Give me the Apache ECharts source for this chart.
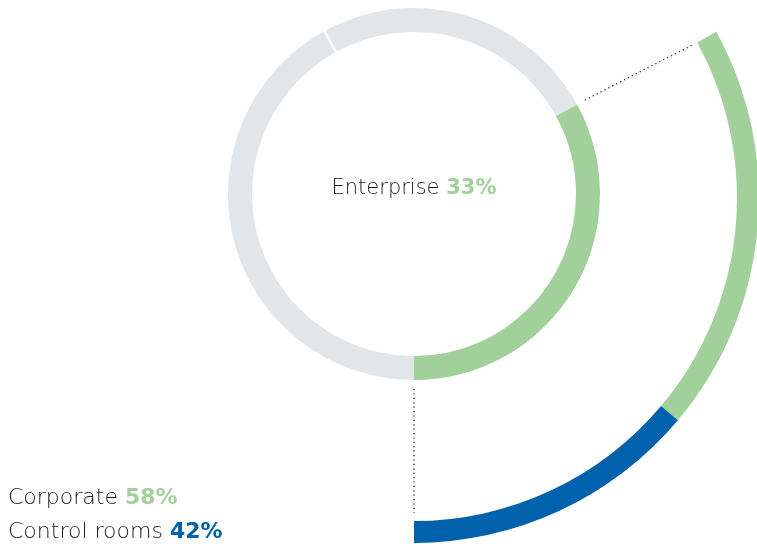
<!DOCTYPE html>
<html>
<head>
<meta charset="utf-8">
<style>
  html, body { margin: 0; padding: 0; background: #fff; }
  #chart { width: 757px; height: 544px; }
</style>
<script src="https://cdn.jsdelivr.net/npm/echarts@6/dist/echarts.min.js"></script>
</head>
<body>
<div id="chart"></div>
<script>
// Inner ring: share of the whole (Enterprise highlighted, the rest in grey)
const innerNames = ['Enterprise', 'Other A', 'Other B'];
const innerValues = [33, 42, 25];
// Outer arc: breakdown of the Enterprise share
const outerNames = ['Corporate', 'Control rooms'];
const outerShares = [58, 42];

const GREEN = '#a1d09b';
const BLUE = '#0061ad';
const GREY = '#e3e6e9';
const TEXT = '#1a1a1a';
const FONT = '"DejaVu Sans", "Open Sans", sans-serif';

const chart = echarts.init(document.getElementById('chart'), null, { renderer: 'canvas' });

const innerC = [414, 194];
const outerC = [414, 198];
const innerR = [162, 186];
const outerR = [323, 345];

const total = innerValues.reduce((a, b) => a + b, 0);
// Enterprise ends at the bottom of the ring; work back to its start angle
const startClock = 180 - 360 * innerValues[0] / total;   // degrees clockwise from 12 o'clock
const echartsStart = 90 - startClock;                      // ECharts: counter-clockwise from 3 o'clock

const outerValues = outerShares.map(s => innerValues[0] * s / 100);

function pt(c, clockDeg, r) {
  const a = clockDeg * Math.PI / 180;
  return [c[0] + r * Math.sin(a), c[1] - r * Math.cos(a)];
}

const baseSeries = {
  type: 'pie',
  startAngle: echartsStart,
  clockwise: true,
  silent: true,
  avoidLabelOverlap: false,
  label: { show: false },
  labelLine: { show: false },
  emphasis: { disabled: true },
  itemStyle: { borderWidth: 0 },
  animation: false
};

// separator between the two grey parts of the inner ring
const sepClock = startClock + 360 * (innerValues[0] + innerValues[1]) / total;
const sepA = pt(innerC, sepClock, innerR[0] - 2), sepB = pt(innerC, sepClock, innerR[1] + 2);

// dotted connectors from the inner Enterprise edges to the outer arc
const c1a = pt(innerC, startClock, innerR[1] + 9), c1b = pt(outerC, startClock, outerR[0] - 6);
const c2a = pt(innerC, 180, innerR[1] + 9), c2b = pt(outerC, 180, outerR[0] - 8);

const dotted = { stroke: '#333', lineWidth: 1.4, lineDash: [1.2, 3.2], fill: null };

function label(x, y, align, name, pct, color, size) {
  return {
    type: 'text', silent: true, z: 100,
    style: {
      x: x, y: y, align: align, verticalAlign: 'middle',
      text: '{n|' + name + ' }{p|' + pct + '%}',
      rich: {
        n: { fontFamily: FONT, fontSize: size, fontWeight: 200, fill: TEXT },
        p: { fontFamily: FONT, fontSize: size, fontWeight: 'bold', fill: color }
      }
    }
  };
}

chart.setOption({
  animation: false,
  series: [
    Object.assign({}, baseSeries, {
      name: 'inner',
      center: innerC,
      radius: innerR,
      data: innerValues.map((v, i) => ({
        name: innerNames[i], value: v,
        itemStyle: { color: i === 0 ? GREEN : GREY }
      }))
    }),
    Object.assign({}, baseSeries, {
      name: 'outer',
      center: outerC,
      radius: outerR,
      data: outerValues.map((v, i) => ({
        name: outerNames[i], value: v,
        itemStyle: { color: i === 0 ? GREEN : BLUE }
      })).concat([{ name: 'rest', value: total - innerValues[0], itemStyle: { color: 'transparent' } }])
    })
  ],
  graphic: [
    { type: 'line', silent: true, z: 100,
      shape: { x1: sepA[0], y1: sepA[1], x2: sepB[0], y2: sepB[1] },
      style: { stroke: '#fff', lineWidth: 2.5 } },
    { type: 'line', silent: true, z: 100,
      shape: { x1: c1a[0], y1: c1a[1], x2: c1b[0], y2: c1b[1] },
      style: dotted },
    { type: 'line', silent: true, z: 100,
      shape: { x1: c2a[0], y1: c2a[1], x2: c2b[0], y2: c2b[1] },
      style: dotted },
    label(innerC[0], innerC[1] - 5, 'center', innerNames[0], innerValues[0], GREEN, 21),
    label(8, 498, 'left', outerNames[0], outerShares[0], GREEN, 22),
    label(8, 532, 'left', outerNames[1], outerShares[1], BLUE, 22)
  ]
});
</script>
</body>
</html>
